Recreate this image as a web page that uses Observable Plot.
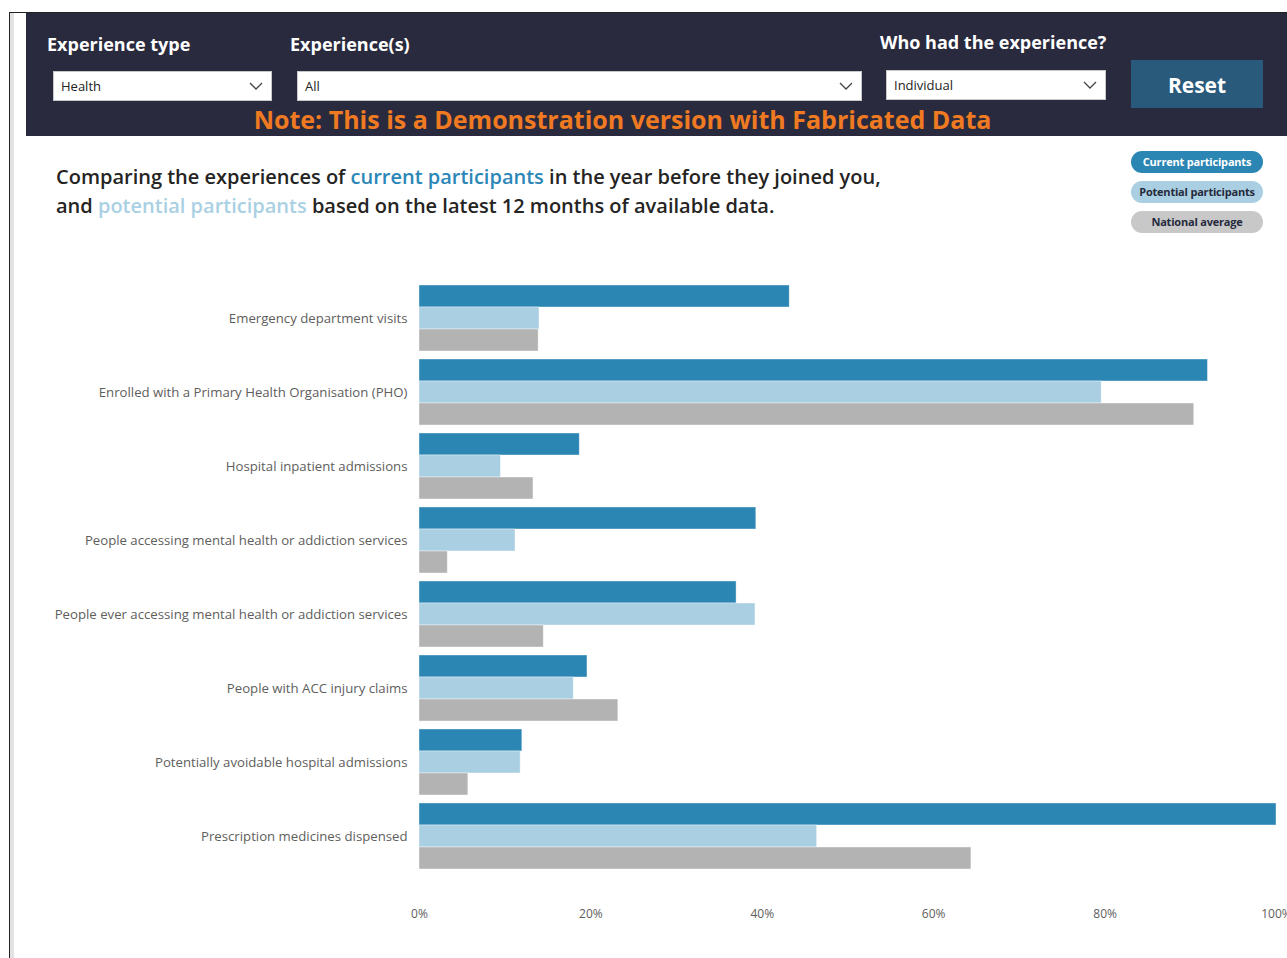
<!DOCTYPE html>
<html>
<head>
<meta charset="utf-8">
<script src="https://cdn.jsdelivr.net/npm/d3@7"></script>
<script src="https://cdn.jsdelivr.net/npm/@observablehq/plot@0.6"></script>
<style>
  html, body { margin: 0; padding: 0; background: #fff; width: 1287px; height: 958px; overflow: hidden; font-family: "Open Sans", "Noto Sans", sans-serif; }
  .abs { position: absolute; }
  #frameTop { left: 9px; top: 12px; width: 1278px; height: 1px; background: #222; }
  #frameLeft { left: 9px; top: 12px; width: 1px; height: 946px; background: #222; }
  #frameStrip { left: 10px; top: 13px; width: 4px; height: 945px; background: #e2e2e2; }
  #header { left: 26px; top: 13px; width: 1261px; height: 123px; background: #292a3d; }
  .hlabel { color: #fff; font-weight: 700; font-size: 18px; white-space: nowrap; }
  .dd { background: #fff; border: 1px solid #c8c8c8; box-sizing: border-box; font-size: 13px; color: #222; line-height: 28px; padding-left: 7px; }
  .dd svg { position: absolute; right: 8px; top: 10px; }
  #reset { left: 1131px; top: 60px; width: 132px; height: 48px; background: #2a5a7b; color: #fff; font-weight: 700; font-size: 21px; text-align: center; line-height: 50px; }
  #note { left: 26px; width: 1193px; top: 102px; text-align: center; color: #f07a22; font-weight: 700; font-size: 25px; white-space: nowrap; }
  #title { left: 56px; top: 162px; color: #252423; font-weight: 600; font-size: 20px; line-height: 29px; white-space: nowrap; }
  .pill { left: 1131px; width: 132px; height: 22px; border-radius: 11px; font-size: 11px; font-weight: 700; text-align: center; line-height: 22px; white-space: nowrap; letter-spacing: -0.2px; }
  #chart { left: 0; top: 270px; }
</style>
</head>
<body>
<div class="abs" id="frameTop"></div>
<div class="abs" id="frameLeft"></div>
<div class="abs" id="frameStrip"></div>
<div class="abs" id="header"></div>
<div class="abs hlabel" style="left:47px; top:32px;">Experience type</div>
<div class="abs hlabel" style="left:290px; top:32px;">Experience(s)</div>
<div class="abs hlabel" style="left:880px; top:30px;">Who had the experience?</div>
<div class="abs dd" style="left:53px; top:71px; width:219px; height:30px;">Health<svg width="14" height="9"><polyline points="1,1 7,7 13,1" fill="none" stroke="#444" stroke-width="1.3"/></svg></div>
<div class="abs dd" style="left:297px; top:71px; width:565px; height:30px;">All<svg width="14" height="9"><polyline points="1,1 7,7 13,1" fill="none" stroke="#444" stroke-width="1.3"/></svg></div>
<div class="abs dd" style="left:886px; top:70px; width:220px; height:30px;">Individual<svg width="14" height="9"><polyline points="1,1 7,7 13,1" fill="none" stroke="#444" stroke-width="1.3"/></svg></div>
<div class="abs" id="reset">Reset</div>
<div class="abs" id="note">Note: This is a Demonstration version with Fabricated Data</div>
<div class="abs" id="title">Comparing the experiences of <span style="color:#2b87b7">current participants</span> in the year before they joined you,<br>and <span style="color:#a9d0e3">potential participants</span> based on the latest 12 months of available data.</div>
<div class="abs pill" style="top:151px; background:#2b86b4; color:#fff;">Current participants</div>
<div class="abs pill" style="top:181px; background:#abcfe2; color:#252a3d;">Potential participants</div>
<div class="abs pill" style="top:211px; background:#c8c8c8; color:#252a3d;">National average</div>
<div class="abs" id="chart"></div>
<script>
const categories = [
  "Emergency department visits",
  "Enrolled with a Primary Health Organisation (PHO)",
  "Hospital inpatient admissions",
  "People accessing mental health or addiction services",
  "People ever accessing mental health or addiction services",
  "People with ACC injury claims",
  "Potentially avoidable hospital admissions",
  "Prescription medicines dispensed"
];
const seriesNames = ["Current participants", "Potential participants", "National average"];
const seriesColors = ["#2b86b4", "#abcfe2", "#b3b3b3"];
const currentValues   = [43.2, 92.0, 18.7, 39.3, 37.0, 19.6, 12.0, 100.0];
const potentialValues = [14.0, 79.6,  9.5, 11.2, 39.2, 18.0, 11.8, 46.4];
const nationalValues  = [13.9, 90.4, 13.3,  3.3, 14.5, 23.2,  5.7, 64.4];
const xTicks = [0, 20, 40, 60, 80, 100];

const rows = [];
const seriesValues = [currentValues, potentialValues, nationalValues];
categories.forEach((c, i) => {
  seriesNames.forEach((s, j) => rows.push({category: c, series: s, value: seriesValues[j][i]}));
});

const chart = Plot.plot({
  width: 1287,
  height: 690,
  marginLeft: 419,
  marginRight: 11,
  marginTop: 15,
  marginBottom: 91,
  style: {fontFamily: "'Open Sans', sans-serif", fontSize: "12px", color: "#605e5c", background: "transparent"},
  x: {domain: [0, 100], ticks: xTicks, tickFormat: d => d + "%", tickSize: 0, tickPadding: 40, label: null, axis: "bottom"},
  y: {domain: seriesNames, axis: null, padding: 0, round: false},
  fy: {domain: categories, axis: "left", label: null, tickSize: 0, tickPadding: 12, paddingInner: 0.108, paddingOuter: 0, round: false},
  color: {domain: seriesNames, range: seriesColors},
  marks: [
    Plot.barX(rows, {fy: "category", y: "series", x: "value", fill: "series", stroke: "#ffffff", strokeOpacity: 0.5, strokeWidth: 0.8})
  ]
});
d3.select(chart).selectAll("[aria-label='fy-axis tick label']").style("font-size", "13.2px");
document.getElementById("chart").appendChild(chart);
</script>
</body>
</html>
